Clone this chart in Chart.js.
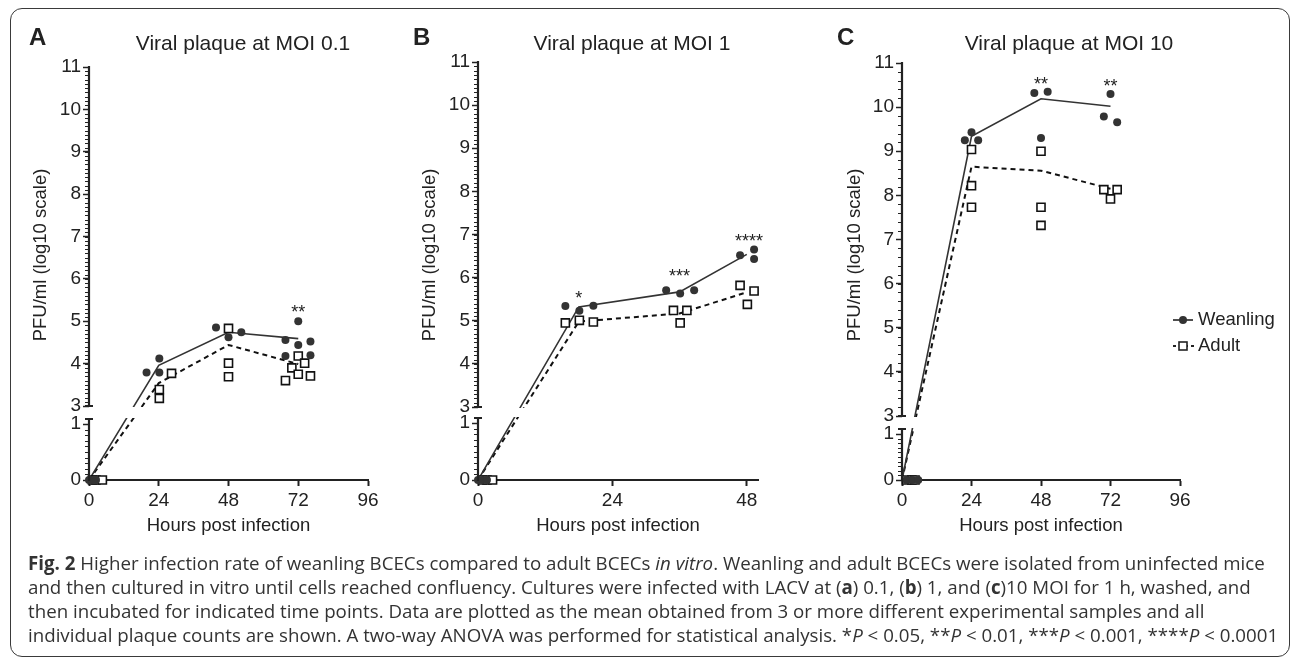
<!DOCTYPE html>
<html>
<head>
<meta charset="utf-8">
<script src="https://cdn.jsdelivr.net/npm/chart.js@4.4.1/dist/chart.umd.min.js"></script>
<style>
    body { margin: 0; width: 1293px; height: 660px; background: #fff; position: relative; overflow: hidden; }
    .frame { position: absolute; left: 10px; top: 8px; width: 1278px; height: 647px; border: 1.5px solid #3a3a3a; border-radius: 12px; }
    canvas { position: absolute; top: 0; }
    #caption { position: absolute; left: 28px; top: 551px; font-family: "Open Sans", "Noto Sans", sans-serif; font-size: 16px; line-height: 24px; color: #333; white-space: nowrap; }
</style>
</head>
<body>
<div class="frame"></div>
<canvas id="chartA" width="410" height="560" style="left:0px"></canvas>
<canvas id="chartB" width="410" height="560" style="left:410px"></canvas>
<canvas id="chartC" width="473" height="560" style="left:820px"></canvas>
<div id="caption"><span><b>Fig. 2</b> Higher infection rate of weanling BCECs compared to adult BCECs <i>in vitro</i>. Weanling and adult BCECs were isolated from uninfected mice</span><br><span>and then cultured in vitro until cells reached confluency. Cultures were infected with LACV at (<b>a</b>) 0.1, (<b>b</b>) 1, and (<b>c</b>)10 MOI for 1 h, washed, and</span><br><span>then incubated for indicated time points. Data are plotted as the mean obtained from 3 or more different experimental samples and all</span><br><span>individual plaque counts are shown. A two-way ANOVA was performed for statistical analysis. *<i>P</i> &lt; 0.05, **<i>P</i> &lt; 0.01, ***<i>P</i> &lt; 0.001, ****<i>P</i> &lt; 0.0001</span></div>
<script>
// ---- data ----
const yTickValues = [0, 1, 3, 4, 5, 6, 7, 8, 9, 10, 11];
const hourTicks = [0, 24, 48, 72, 96];
const hourTicksB = [0, 24, 48];
const seriesNames = ['Weanling', 'Adult'];

// MOI 0.1
const moi01WeanlingX = [0, 1.2, 2.4, 19.8, 24.2, 24.2, 43.7, 48, 52.4, 67.6, 72, 72, 76.2, 67.6, 76.2];
const moi01WeanlingY = [0, 0, 0, 3.79, 4.12, 3.79, 4.85, 4.62, 4.74, 4.56, 5.0, 4.44, 4.52, 4.18, 4.2];
const moi01AdultX = [1.2, 2.4, 4.6, 24.2, 24.2, 28.4, 48, 48, 48, 67.6, 69.8, 72, 72, 74.2, 76.2];
const moi01AdultY = [0, 0, 0, 3.39, 3.18, 3.77, 4.83, 4.01, 3.69, 3.6, 3.9, 4.18, 3.75, 4.01, 3.71];
const moi01MeanHours = [0, 24, 48, 72];
const moi01WeanlingMean = [0, 3.96, 4.74, 4.59];
const moi01AdultMean = [0, 3.54, 4.44, 3.99];
const moi01SigHours = [72];
const moi01SigLevel = [5.31];
const moi01SigText = ['**'];

// MOI 1
const moi1WeanlingX = [0, 0.8, 1.6, 15.6, 18.1, 20.6, 33.6, 36.1, 38.6, 46.8, 49.3, 49.3];
const moi1WeanlingY = [0, 0, 0, 5.34, 5.23, 5.35, 5.71, 5.63, 5.71, 6.52, 6.65, 6.43];
const moi1AdultX = [0.8, 1.6, 2.6, 15.6, 18.1, 20.6, 34.9, 36.1, 37.3, 46.8, 48.1, 49.3];
const moi1AdultY = [0, 0, 0, 4.95, 5.01, 4.97, 5.24, 4.95, 5.24, 5.82, 5.38, 5.69];
const moi1MeanHours = [0, 18, 36, 48];
const moi1WeanlingMean = [0, 5.32, 5.67, 6.54];
const moi1AdultMean = [0, 4.98, 5.17, 5.66];
const moi1SigHours = [18, 36, 48.4];
const moi1SigLevel = [5.61, 6.12, 6.94];
const moi1SigText = ['*', '***', '****'];

// MOI 10
const moi10WeanlingX = [1.5, 3.5, 5.6, 21.7, 24, 26.3, 45.7, 50.3, 48, 72, 69.7, 74.3];
const moi10WeanlingY = [0, 0, 0, 9.25, 9.43, 9.25, 10.32, 10.35, 9.3, 10.3, 9.79, 9.66];
const moi10AdultX = [1.5, 3.4, 4.5, 24, 24, 24, 48, 48, 48, 69.7, 72, 74.3];
const moi10AdultY = [0, 0, 0, 9.04, 8.22, 7.73, 9.0, 7.73, 7.32, 8.13, 7.92, 8.13];
const moi10MeanHours = [0, 24, 48, 72];
const moi10WeanlingMean = [0, 9.34, 10.19, 10.02];
const moi10AdultMean = [0, 8.65, 8.56, 8.15];
const moi10SigHours = [48, 72];
const moi10SigLevel = [10.62, 10.58];
const moi10SigText = ['**', '**'];

const INK = '#222';
const FONT = '"Liberation Sans", Arial, sans-serif';
const CAPTION_LINE_WIDTH = 1238;

Chart.defaults.font.family = FONT;
Chart.defaults.color = INK;

// linear scale with a gap between breakLow and breakHigh (GraphPad style broken axis)
class BrokenScale extends Chart.LinearScale {
    static id = 'broken';
    static defaults = {};

    buildTicks() {
        return this.options.tickValues.map((value) => ({ value }));
    }

    getPixelForValue(value) {
        const { breakLow: lo, breakHigh: hi, lowFrac: lf, gapFrac: gf } = this.options;
        let dec;
        if (value <= lo) dec = (value - this.min) / (lo - this.min) * lf;
        else if (value >= hi) dec = lf + gf + (value - hi) / (this.max - hi) * (1 - lf - gf);
        else dec = lf + (value - lo) / (hi - lo) * gf;
        return this.getPixelForDecimal(dec);
    }

    getValueForPixel(pixel) {
        const { breakLow: lo, breakHigh: hi, lowFrac: lf, gapFrac: gf } = this.options;
        const dec = this.getDecimalForPixel(pixel);
        if (dec <= lf) return this.min + dec / lf * (lo - this.min);
        if (dec <= lf + gf) return lo + (dec - lf) / gf * (hi - lo);
        return hi + (dec - lf - gf) / (1 - lf - gf) * (this.max - hi);
    }
}
Chart.register(BrokenScale);

function toPoints(xs, ys) {
    return xs.map((x, i) => ({ x, y: ys[i] }));
}

function createPanel(panel) {
    const ctx = document.getElementById(panel.canvasId).getContext('2d');
    const plotHeight = 480 - panel.chartTop;

    const decor = {
        id: 'panelDecor',
        afterDatasetsDraw(chart) {
            const { ctx, chartArea: area } = chart;
            const yScale = chart.scales.y;
            const axisX = area.left;
            const top3 = yScale.getPixelForValue(3);
            const lowCap = yScale.getPixelForValue(1) - 5;

            ctx.save();
            // white band where the axis is broken
            ctx.fillStyle = '#fff';
            ctx.fillRect(axisX + 2, top3 + 1, area.right - axisX, lowCap - top3 - 2);

            ctx.strokeStyle = INK;
            ctx.lineWidth = 2.2;
            ctx.beginPath();
            ctx.moveTo(axisX, area.bottom + 1);
            ctx.lineTo(axisX, lowCap);
            ctx.moveTo(axisX, top3);
            ctx.lineTo(axisX, area.top - 1);
            ctx.moveTo(axisX - 4, lowCap);
            ctx.lineTo(axisX + 4, lowCap);
            ctx.moveTo(axisX - 4, top3);
            ctx.lineTo(axisX + 4, top3);
            ctx.stroke();

            // minor ticks
            ctx.lineWidth = 1.2;
            ctx.beginPath();
            for (let v = 0.1; v < 0.99; v += 0.1) {
                const py = Math.round(yScale.getPixelForValue(v)) + 0.5;
                ctx.moveTo(axisX - 4, py);
                ctx.lineTo(axisX, py);
            }
            for (let v = 3 + panel.minorStep; v < 10.99; v += panel.minorStep) {
                const py = Math.round(yScale.getPixelForValue(v)) + 0.5;
                ctx.moveTo(axisX - 4, py);
                ctx.lineTo(axisX, py);
            }
            ctx.stroke();
            ctx.restore();
        },
        afterDraw(chart) {
            const { ctx } = chart;
            const xScale = chart.scales.x;
            const yScale = chart.scales.y;
            const off = panel.canvasLeft;

            ctx.save();
            ctx.fillStyle = INK;
            ctx.textBaseline = 'alphabetic';

            ctx.font = 'bold 24px ' + FONT;
            ctx.textAlign = 'left';
            ctx.fillText(panel.letter, panel.letterX - off, 45);

            ctx.font = '21px ' + FONT;
            ctx.textAlign = 'center';
            ctx.fillText(panel.title, panel.titleX - off, 50);

            ctx.save();
            ctx.translate(panel.yTitleX - off, 255);
            ctx.rotate(-Math.PI / 2);
            ctx.font = '18.5px ' + FONT;
            ctx.textBaseline = 'middle';
            ctx.fillText('PFU/ml (log10 scale)', 0, 0);
            ctx.restore();

            ctx.font = '18px ' + FONT;
            panel.sigHours.forEach((h, i) => {
                ctx.fillText(panel.sigText[i], xScale.getPixelForValue(h), yScale.getPixelForValue(panel.sigLevel[i]) + 10);
            });

            if (panel.legend) {
                const sx = 1183 - off;
                const tx = 1198 - off;
                const rows = [320, 346];
                ctx.strokeStyle = INK;
                ctx.lineWidth = 1.6;
                ctx.beginPath();
                ctx.moveTo(sx - 10, rows[0]);
                ctx.lineTo(sx + 10, rows[0]);
                ctx.stroke();
                ctx.beginPath();
                ctx.arc(sx, rows[0], 4, 0, Math.PI * 2);
                ctx.fillStyle = '#333';
                ctx.fill();

                ctx.setLineDash([3, 3]);
                ctx.lineWidth = 2;
                ctx.beginPath();
                ctx.moveTo(sx - 10, rows[1]);
                ctx.lineTo(sx + 12, rows[1]);
                ctx.stroke();
                ctx.setLineDash([]);
                ctx.fillStyle = '#fff';
                ctx.fillRect(sx - 4, rows[1] - 4, 8, 8);
                ctx.lineWidth = 1.6;
                ctx.strokeRect(sx - 4, rows[1] - 4, 8, 8);

                ctx.fillStyle = INK;
                ctx.font = '18.5px ' + FONT;
                ctx.textAlign = 'left';
                ctx.textBaseline = 'middle';
                ctx.fillText(seriesNames[0], tx, rows[0]);
                ctx.fillText(seriesNames[1], tx, rows[1]);
            }
            ctx.restore();
        },
    };

    return new Chart(ctx, {
        type: 'scatter',
        data: {
            datasets: [
                {
                    label: seriesNames[0],
                    data: toPoints(panel.weanlingX, panel.weanlingY),
                    pointStyle: 'circle',
                    pointRadius: 4,
                    backgroundColor: '#333',
                    borderWidth: 0,
                    clip: false,
                },
                {
                    label: seriesNames[1],
                    data: toPoints(panel.adultX, panel.adultY),
                    pointStyle: 'rect',
                    pointRadius: 5.7,
                    backgroundColor: '#fff',
                    borderColor: '#111',
                    borderWidth: 1.6,
                    clip: false,
                },
                {
                    label: seriesNames[0] + ' mean',
                    data: toPoints(panel.meanHours, panel.weanlingMean),
                    showLine: true,
                    borderColor: '#333',
                    borderWidth: 1.6,
                    pointRadius: 0,
                },
                {
                    label: seriesNames[1] + ' mean',
                    data: toPoints(panel.meanHours, panel.adultMean),
                    showLine: true,
                    borderColor: '#111',
                    borderWidth: 2,
                    borderDash: [5, 4],
                    pointRadius: 0,
                },
            ],
        },
        options: {
            responsive: false,
            animation: false,
            events: [],
            layout: {
                padding: {
                    top: panel.chartTop,
                    right: panel.canvasLeft + panel.canvasWidth - panel.chartRight,
                    left: 0,
                    bottom: 0,
                },
            },
            scales: {
                x: {
                    type: 'linear',
                    min: 0,
                    max: panel.xMax,
                    afterBuildTicks: (scale) => { scale.ticks = panel.xTicks.map((value) => ({ value })); },
                    afterFit: (scale) => { scale.height = 80; },
                    grid: { drawOnChartArea: false, tickLength: 6, tickWidth: 2, tickColor: INK },
                    border: { display: true, color: INK, width: 2 },
                    ticks: { font: { size: 19 }, color: INK, padding: 3, maxRotation: 0, autoSkip: false },
                    title: {
                        display: true,
                        text: 'Hours post infection',
                        font: { size: 18.5 },
                        color: INK,
                        padding: { top: 0, bottom: 23 },
                    },
                },
                y: {
                    type: 'broken',
                    min: 0,
                    max: 11,
                    breakLow: 1,
                    breakHigh: 3,
                    lowFrac: panel.lowPx / plotHeight,
                    gapFrac: panel.gapPx / plotHeight,
                    tickValues: yTickValues,
                    afterFit: (scale) => { scale.width = panel.axisLeft - panel.canvasLeft; },
                    grid: { drawOnChartArea: false, tickLength: 6, tickWidth: 1.5, tickColor: INK },
                    border: { display: false },
                    ticks: { font: { size: 19 }, color: INK, padding: 2, autoSkip: false },
                },
            },
            plugins: {
                legend: { display: false },
                tooltip: { enabled: false },
            },
        },
        plugins: [decor],
    });
}

createPanel({
    canvasId: 'chartA', canvasLeft: 0, canvasWidth: 410,
    letter: 'A', letterX: 29, title: 'Viral plaque at MOI 0.1', titleX: 243, yTitleX: 41,
    axisLeft: 89, chartRight: 368, chartTop: 67, lowPx: 56, gapPx: 18, minorStep: 0.1,
    xMax: 96, xTicks: hourTicks,
    weanlingX: moi01WeanlingX, weanlingY: moi01WeanlingY,
    adultX: moi01AdultX, adultY: moi01AdultY,
    meanHours: moi01MeanHours, weanlingMean: moi01WeanlingMean, adultMean: moi01AdultMean,
    sigHours: moi01SigHours, sigLevel: moi01SigLevel, sigText: moi01SigText,
    legend: false,
});

createPanel({
    canvasId: 'chartB', canvasLeft: 410, canvasWidth: 410,
    letter: 'B', letterX: 413, title: 'Viral plaque at MOI 1', titleX: 632, yTitleX: 430,
    axisLeft: 478, chartRight: 758, chartTop: 62, lowPx: 57, gapPx: 16, minorStep: 0.1,
    xMax: 50, xTicks: hourTicksB,
    weanlingX: moi1WeanlingX, weanlingY: moi1WeanlingY,
    adultX: moi1AdultX, adultY: moi1AdultY,
    meanHours: moi1MeanHours, weanlingMean: moi1WeanlingMean, adultMean: moi1AdultMean,
    sigHours: moi1SigHours, sigLevel: moi1SigLevel, sigText: moi1SigText,
    legend: false,
});

createPanel({
    canvasId: 'chartC', canvasLeft: 820, canvasWidth: 473,
    letter: 'C', letterX: 837, title: 'Viral plaque at MOI 10', titleX: 1069, yTitleX: 855,
    axisLeft: 902, chartRight: 1180, chartTop: 63, lowPx: 46, gapPx: 18, minorStep: 0.2,
    xMax: 96, xTicks: hourTicks,
    weanlingX: moi10WeanlingX, weanlingY: moi10WeanlingY,
    adultX: moi10AdultX, adultY: moi10AdultY,
    meanHours: moi10MeanHours, weanlingMean: moi10WeanlingMean, adultMean: moi10AdultMean,
    sigHours: moi10SigHours, sigLevel: moi10SigLevel, sigText: moi10SigText,
    legend: true,
});

// fit the caption so its first line spans the same width as in the figure
const caption = document.getElementById('caption');
const firstLine = caption.querySelector('span');
const naturalWidth = firstLine.getBoundingClientRect().width;
caption.style.fontSize = (16 * CAPTION_LINE_WIDTH / naturalWidth).toFixed(2) + 'px';
</script>
</body>
</html>
